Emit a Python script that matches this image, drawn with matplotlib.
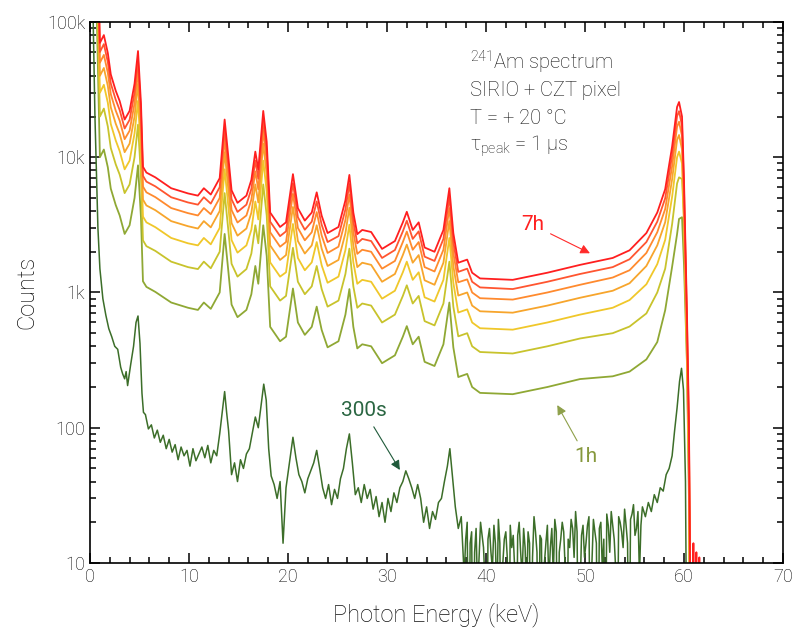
import matplotlib
matplotlib.use('Agg')
import matplotlib.pyplot as plt
from matplotlib.ticker import FixedLocator, FixedFormatter, MultipleLocator, LogLocator, NullFormatter

plt.rcParams['font.family'] = ['Roboto', 'DejaVu Sans']
plt.rcParams['mathtext.fontset'] = 'custom'
plt.rcParams['mathtext.rm'] = 'Roboto:light'
plt.rcParams['mathtext.it'] = 'Roboto:light'

# energia (keV) de los puntos leidos para las curvas de 1h a 7h
energia = [0.3, 0.7, 1.0, 1.4, 1.8, 2.1, 2.6, 3.0, 3.5, 4.0,
           4.5, 4.85, 5.15, 5.35, 5.7, 6.6, 8.2, 9.9, 10.9, 11.5,
           12.2, 13.1, 13.6, 13.95, 14.3, 14.9, 15.8, 16.3, 16.7, 17.0,
           17.5, 17.85, 18.2, 19.2, 19.8, 20.5, 21.0, 21.7, 22.4, 22.9,
           23.4, 24.0, 25.1, 25.8, 26.2, 26.6, 27.0, 27.5, 28.4, 29.5,
           30.8, 31.6, 32.0, 32.6, 33.2, 33.8, 34.8, 35.7, 36.3, 36.7,
           37.2, 38.1, 38.6, 39.4, 42.7, 46.2, 49.5, 52.8, 54.5, 56.2,
           57.3, 58.1, 58.8, 59.3, 59.5, 59.8, 60.0, 60.3, 60.5, 60.65,
           60.85, 60.95, 61.05, 61.25, 61.35, 61.55, 61.65]

c1h = [430000, 100000, 10000, 11400, 8430, 5860, 4430, 3710, 2710, 3140,
       5000, 8710, 3570, 1210, 1100, 1010, 843, 771, 743, 843,
       757, 1000, 2710, 1500, 814, 657, 743, 971, 1570, 1160,
       3140, 1860, 557, 436, 471, 1070, 600, 486, 557, 786,
       529, 393, 436, 686, 1060, 557, 386, 414, 400, 300,
       343, 471, 564, 414, 471, 307, 286, 414, 843, 393,
       237, 250, 200, 181, 177, 200, 229, 240, 260, 320,
       430, 740, 1550, 2700, 3500, 3600, 1600, 300, 30, 1,
       1, 1, 1, 1, 1, 1, 1]

c2h = [860000, 200000, 20000, 22900, 16900, 11700, 8860, 7430, 5430, 6290,
       10000, 17400, 7140, 2430, 2200, 2030, 1690, 1540, 1490, 1690,
       1510, 2000, 5430, 3000, 1630, 1310, 1490, 1940, 3140, 2310,
       6290, 3710, 1110, 871, 943, 2140, 1200, 971, 1110, 1570,
       1060, 786, 871, 1370, 2110, 1110, 771, 829, 800, 600,
       686, 943, 1130, 829, 943, 614, 571, 829, 1690, 786,
       474, 500, 400, 363, 354, 400, 457, 500, 560, 700,
       1000, 1500, 3200, 6400, 7100, 6900, 3500, 400, 40, 1,
       1, 1, 1, 1, 1, 1, 1]

c3h = [1300000, 300000, 30000, 34300, 25300, 17600, 13300, 11100, 8140, 9430,
       15000, 26100, 10700, 3640, 3300, 3040, 2530, 2310, 2230, 2530,
       2270, 3000, 8140, 4500, 2440, 1970, 2230, 2910, 4710, 3470,
       9430, 5570, 1670, 1310, 1410, 3210, 1800, 1460, 1670, 2360,
       1590, 1180, 1310, 2060, 3170, 1670, 1160, 1240, 1200, 900,
       1030, 1410, 1690, 1240, 1410, 921, 857, 1240, 2530, 1180,
       711, 750, 600, 544, 531, 600, 686, 771, 879, 1150,
       1620, 2450, 5100, 10000, 11000, 9000, 3200, 310, 47, 1,
       1, 1, 1, 1, 1, 1, 1]

c4h = [1700000, 400000, 40000, 45700, 33700, 23400, 17700, 14900, 10900, 12600,
       20000, 34900, 14300, 4860, 4400, 4060, 3370, 3090, 2970, 3370,
       3030, 4000, 10900, 6000, 3260, 2630, 2970, 3890, 6290, 4630,
       12600, 7430, 2230, 1740, 1890, 4290, 2400, 1940, 2230, 3140,
       2110, 1570, 1740, 2740, 4230, 2230, 1540, 1660, 1600, 1200,
       1370, 1890, 2260, 1660, 1890, 1230, 1140, 1660, 3370, 1570,
       949, 1000, 800, 726, 709, 800, 914, 1030, 1170, 1570,
       2230, 3310, 6860, 13400, 14600, 11400, 3890, 400, 63, 2,
       1, 1, 1, 1, 1, 1, 1]

c5h = [2100000, 500000, 50000, 57100, 42100, 29300, 22100, 18600, 13600, 15700,
       25000, 43600, 17900, 6070, 5500, 5070, 4210, 3860, 3710, 4210,
       3790, 5000, 13600, 7500, 4070, 3290, 3710, 4860, 7860, 5790,
       15700, 9290, 2790, 2180, 2360, 5360, 3000, 2430, 2790, 3930,
       2640, 1960, 2180, 3430, 5290, 2790, 1930, 2070, 2000, 1500,
       1710, 2360, 2820, 2070, 2360, 1540, 1430, 2070, 4210, 1960,
       1190, 1250, 1000, 907, 886, 1000, 1140, 1290, 1460, 1960,
       2790, 4140, 8570, 16800, 18300, 14300, 4860, 500, 79, 3,
       1, 1, 1, 1, 1, 1, 1]

c6h = [2600000, 600000, 60000, 68600, 50600, 35100, 26600, 22300, 16300, 18900,
       30000, 52300, 21400, 7290, 6600, 6090, 5060, 4630, 4460, 5060,
       4540, 6000, 16300, 9000, 4890, 3940, 4460, 5830, 9430, 6940,
       18900, 11100, 3340, 2610, 2830, 6430, 3600, 2910, 3340, 4710,
       3170, 2360, 2610, 4110, 6340, 3340, 2310, 2490, 2400, 1800,
       2060, 2830, 3390, 2490, 2830, 1840, 1710, 2490, 5060, 2360,
       1420, 1500, 1200, 1090, 1060, 1200, 1370, 1540, 1760, 2360,
       3340, 4970, 10300, 20100, 21900, 17100, 5830, 600, 94, 4,
       1, 1, 1, 1, 1, 1, 1]

c7h = [3000000, 700000, 70000, 80000, 59000, 41000, 31000, 26000, 19000, 22000,
       35000, 61000, 25000, 8500, 7700, 7100, 5900, 5400, 5200, 5900,
       5300, 7000, 19000, 10500, 5700, 4600, 5200, 6800, 11000, 8100,
       22000, 13000, 3900, 3050, 3300, 7500, 4200, 3400, 3900, 5500,
       3700, 2750, 3050, 4800, 7400, 3900, 2700, 2900, 2800, 2100,
       2400, 3300, 3950, 2900, 3300, 2150, 2000, 2900, 5900, 2750,
       1660, 1750, 1400, 1270, 1240, 1400, 1600, 1800, 2050, 2750,
       3900, 5800, 12000, 23500, 25600, 20000, 6800, 700, 110, 5,
       1, 14, 1, 12, 1, 11, 1]

# curva de 300 s (mas ruidosa, con su propia malla de energia)
e300 = [0.25, 0.5, 0.8, 1.0, 1.3, 1.6, 1.9, 2.2, 2.5, 2.8,
        3.1, 3.3, 3.5, 3.65, 3.8, 4.1, 4.4, 4.65, 4.85, 5.05,
        5.25, 5.4, 5.6, 5.9, 6.2, 6.5, 6.8, 7.1, 7.4, 7.7,
        8.0, 8.3, 8.6, 8.9, 9.2, 9.5, 9.8, 10.1, 10.4, 10.7,
        11.0, 11.3, 11.6, 11.9, 12.2, 12.5, 12.8, 13.1, 13.4, 13.6,
        13.8, 14.0, 14.3, 14.6, 14.9, 15.2, 15.5, 15.8, 16.1, 16.4,
        16.7, 17.0, 17.3, 17.55, 17.8, 18.05, 18.3, 18.6, 18.9, 19.2,
        19.5, 19.8, 20.1, 20.5, 20.8, 21.1, 21.4, 21.7, 22.0, 22.3,
        22.6, 22.9, 23.2, 23.5, 23.8, 24.1, 24.4, 24.7, 25.0, 25.3,
        25.6, 25.9, 26.2, 26.5, 26.8, 27.1, 27.4, 27.7, 28.0, 28.3,
        28.6, 28.9, 29.2, 29.5, 29.8, 30.1, 30.4, 30.7, 31.0, 31.3,
        31.6, 31.9, 32.2, 32.5, 32.8, 33.1, 33.4, 33.7, 34.0, 34.3,
        34.6, 34.9, 35.2, 35.5, 35.8, 36.1, 36.35, 36.6, 36.9, 37.2,
        37.5,
        37.8, 37.95, 38.1, 38.25, 38.4, 38.55, 38.7, 38.85, 39.0, 39.15,
        39.3, 39.45, 39.6, 39.75, 39.9, 40.05, 40.2, 40.35, 40.5, 40.65,
        40.8, 40.95, 41.1, 41.25, 41.4, 41.55, 41.7, 41.85, 42.0, 42.15,
        42.3, 42.45, 42.6, 42.75, 42.9, 43.05, 43.2, 43.35, 43.5, 43.65,
        43.8, 43.95, 44.1, 44.25, 44.4, 44.55, 44.7, 44.85, 45.0, 45.15,
        45.3, 45.45, 45.6, 45.75, 45.9, 46.05, 46.2, 46.35, 46.5, 46.65,
        46.8, 46.95, 47.1, 47.25, 47.4, 47.55, 47.7, 47.85, 48.0, 48.15,
        48.3, 48.45, 48.6, 48.75, 48.9, 49.05, 49.2, 49.35, 49.5, 49.65,
        49.8, 49.95, 50.1, 50.25, 50.4, 50.55, 50.7, 50.85, 51.0, 51.15,
        51.3, 51.45, 51.6, 51.75, 51.9, 52.05, 52.2, 52.35, 52.5, 52.65,
        52.8, 52.95, 53.1, 53.25, 53.4, 53.55, 53.7, 53.85, 54.0, 54.15,
        54.3, 54.45, 54.6, 54.75, 54.9, 55.05, 55.2, 55.35, 55.5, 55.65,
        55.8,
        56.1, 56.4, 56.7, 57.0, 57.3, 57.6, 57.9, 58.2, 58.5, 58.8,
        59.05, 59.3, 59.55, 59.75, 59.95, 60.15, 60.3]

c300 = [200000, 20000, 3000, 1500, 900, 680, 540, 470, 400, 380,
        280, 250, 230, 260, 205, 290, 400, 600, 670, 420,
        180, 130, 125, 98, 105, 84, 96, 78, 88, 70,
        82, 66, 75, 58, 72, 62, 68, 52, 70, 57,
        64, 72, 60, 74, 55, 68, 62, 90, 140, 185,
        130, 95, 45, 55, 40, 58, 50, 64, 70, 92,
        120, 100, 150, 210, 160, 70, 44, 38, 30, 40,
        14, 36, 52, 85, 60, 45, 40, 33, 42, 48,
        55, 68, 50, 36, 30, 38, 27, 35, 30, 42,
        50, 70, 90, 55, 32, 36, 28, 38, 30, 35,
        25, 31, 22, 28, 20, 30, 24, 33, 28, 36,
        40, 48, 42, 36, 30, 38, 30, 20, 26, 18,
        24, 21, 28, 30, 40, 52, 70, 45, 26, 18,
        22,
        8, 15, 20, 1, 14, 17, 1, 12, 18, 6,
        11, 20, 16, 13, 7, 1, 15, 18, 12, 9,
        19, 14, 5, 21, 14, 1, 10, 15, 17, 11,
        1, 19, 13, 16, 9, 1, 16, 20, 12, 8,
        18, 13, 6, 17, 14, 1, 11, 22, 17, 12,
        1, 16, 15, 1, 10, 14, 19, 7, 13, 18,
        8, 21, 17, 1, 12, 15, 20, 17, 9, 1,
        15, 13, 21, 18, 11, 24, 17, 1, 6, 16,
        19, 11, 14, 19, 22, 1, 10, 21, 17, 14,
        1, 18, 20, 9, 15, 1, 23, 19, 12, 24,
        19, 15, 9, 1, 22, 20, 17, 13, 25, 19,
        14, 1, 21, 23, 27, 16, 18, 24, 8, 19,
        26,
        22, 28, 24, 32, 28, 36, 34, 45, 50, 62,
        95, 140, 220, 275, 190, 40, 1]

series = [c1h, c2h, c3h, c4h, c5h, c6h, c7h]
colores = ['#8fa834', '#c8c32c', '#f0c72a', '#f7a52c', '#ff8a2e', '#ff5530', '#ff1f1f']

fig = plt.figure(figsize=(7.95, 6.37), dpi=100)
ax = fig.add_axes([0.1132, 0.1162, 0.8717, 0.8493])

ax.plot(e300, c300, color='#3c6e29', lw=1.1)
for cuentas, col in zip(series, colores):
    ax.plot(energia, cuentas, color=col, lw=1.3)

ax.set_yscale('log')
ax.set_xlim(0, 70)
ax.set_ylim(10, 100000)

ax.xaxis.set_major_locator(MultipleLocator(10))
ax.xaxis.set_minor_locator(MultipleLocator(2))
ax.yaxis.set_major_locator(FixedLocator([10, 100, 1000, 10000, 100000]))
ax.yaxis.set_major_formatter(FixedFormatter(['10', '100', '1k', '10k', '100k']))
ax.yaxis.set_minor_locator(LogLocator(base=10, subs=range(2, 10)))
ax.yaxis.set_minor_formatter(NullFormatter())

ax.tick_params(which='both', direction='in', top=True, right=True, width=1.1)
ax.tick_params(which='major', length=7, labelsize=13, colors='black')
ax.tick_params(which='minor', length=4)
for lab in ax.get_xticklabels() + ax.get_yticklabels():
    lab.set_fontweight('light')
for sp in ax.spines.values():
    sp.set_linewidth(1.2)

ax.set_xlabel('Photon Energy (keV)', fontsize=17, fontweight='light', labelpad=12, color='#111111')
ax.set_ylabel('Counts', fontsize=17, fontweight='light', labelpad=6, color='#111111')

# texto de condiciones
tx = 0.548
kw = dict(transform=ax.transAxes, fontsize=14.5, fontweight='light', color='#111111', va='center')
ax.text(tx, 0.926, r'$^{241}$Am spectrum', **kw)
ax.text(tx, 0.874, 'SIRIO + CZT pixel', **kw)
ax.text(tx, 0.822, 'T = + 20 °C', **kw)
ax.text(tx, 0.770, r'τ$_{\rm peak}$ = 1 μs', **kw)

# etiquetas con flecha
ax.annotate('7h', xy=(50.5, 1950), xytext=(44.7, 3160), fontsize=15,
            color='#ff2020', ha='center', va='center',
            arrowprops=dict(arrowstyle='-|>', color='#ff2a2a', lw=0.8, mutation_scale=14, shrinkA=3, shrinkB=0))
ax.annotate('1h', xy=(47.2, 147), xytext=(50.1, 61), fontsize=15,
            color='#86983c', ha='center', va='center',
            arrowprops=dict(arrowstyle='-|>', color='#8ea04a', lw=0.8, mutation_scale=14, shrinkA=3, shrinkB=0))
ax.annotate('300s', xy=(31.3, 48.7), xytext=(27.7, 133), fontsize=15,
            color='#2a6642', ha='center', va='center',
            arrowprops=dict(arrowstyle='-|>', color='#1f5a3a', lw=0.8, mutation_scale=14, shrinkA=3, shrinkB=0))

fig.savefig('out.png', dpi=100)
